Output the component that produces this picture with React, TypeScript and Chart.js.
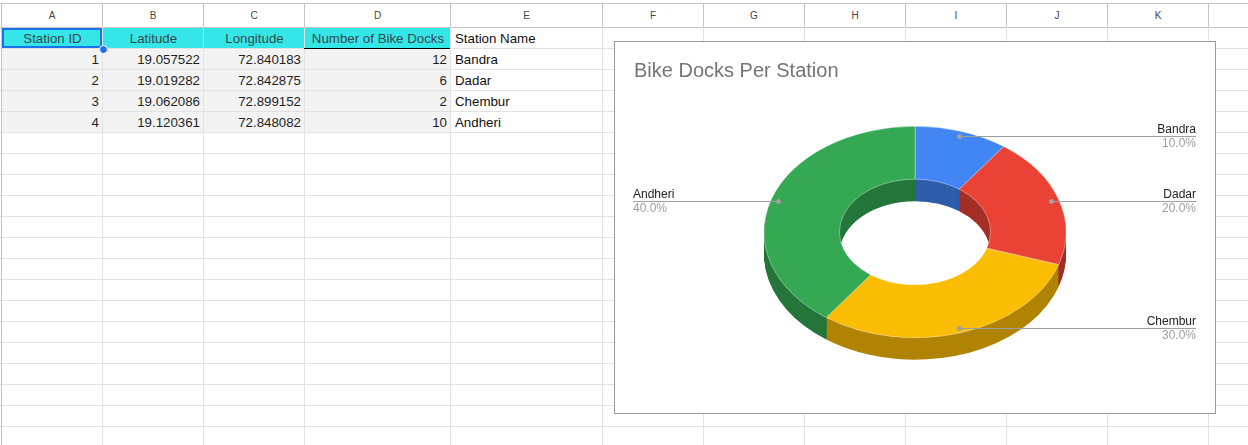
import React, { useEffect, useRef } from 'react';
import { Chart, registerables } from 'chart.js';
Chart.register(...registerables);

// ---- data ----
const headers = ['Station ID', 'Latitude', 'Longitude', 'Number of Bike Docks', 'Station Name'];
const stationIds = [1, 2, 3, 4];
const latitudes = [19.057522, 19.019282, 19.062086, 19.120361];
const longitudes = [72.840183, 72.842875, 72.899152, 72.848082];
const bikeDocks = [12, 6, 2, 10];
const stationNames = ['Bandra', 'Dadar', 'Chembur', 'Andheri'];
const columnLetters = ['A', 'B', 'C', 'D', 'E', 'F', 'G', 'H', 'I', 'J', 'K', 'L'];
const chartTitle = 'Bike Docks Per Station';
const sliceColors = ['#4285F4', '#EA4335', '#FBBC04', '#34A853'];
const sideColors = ['#2E5DAB', '#A42F25', '#B08403', '#24763A'];

// ---- layout ----
const FONT = '"Liberation Sans", Arial, sans-serif';
const COL_EDGES = [1, 102, 203, 304, 450, 602, 703, 804, 905, 1006, 1107, 1208, 1309];
const HEADER_TOP = 3;
const HEADER_BOTTOM = 27;
const ROW_H = 21;
const PAGE_W = 1248;
const PAGE_H = 445;
const RATIO_Y = 0.7;
const DEPTH = 22;

const arcPath = (ctx: CanvasRenderingContext2D, a: any, dy: number) => {
  ctx.beginPath();
  ctx.arc(a.x, a.y + dy, a.outerRadius, a.startAngle, a.endAngle);
  ctx.arc(a.x, a.y + dy, a.innerRadius, a.endAngle, a.startAngle, true);
  ctx.closePath();
};

const pseudo3d = {
  id: 'pseudo3d',
  beforeDatasetsDraw(chart: any) {
    const ctx = chart.ctx as CanvasRenderingContext2D;
    const arcs = chart.getDatasetMeta(0).data;
    if (!arcs.length) return;
    const cx = arcs[0].x;
    const cy = arcs[0].y;
    ctx.save();
    ctx.translate(cx, cy);
    ctx.scale(1, RATIO_Y);
    ctx.translate(-cx, -cy);
    for (let d = DEPTH; d >= 1; d -= 1) {
      arcs.forEach((a: any, i: number) => {
        arcPath(ctx, a, d / RATIO_Y);
        ctx.fillStyle = sideColors[i];
        ctx.fill();
      });
    }
    ctx.restore();
    ctx.save();
    ctx.translate(cx, cy);
    ctx.scale(1, RATIO_Y);
    ctx.translate(-cx, -cy);
  },
  afterDatasetsDraw(chart: any) {
    chart.ctx.restore();
  },
};

const leaderLabels = {
  id: 'leaderLabels',
  afterDraw(chart: any) {
    const ctx = chart.ctx as CanvasRenderingContext2D;
    const arcs = chart.getDatasetMeta(0).data;
    const values = chart.data.datasets[0].data as number[];
    const total = values.reduce((s, v) => s + v, 0);
    const area = chart.chartArea;
    ctx.save();
    arcs.forEach((a: any, i: number) => {
      const mid = (a.startAngle + a.endAngle) / 2;
      const r = a.outerRadius * 0.95;
      const px = a.x + r * Math.cos(mid);
      const py = a.y + r * Math.sin(mid) * RATIO_Y;
      const right = px >= a.x;
      const ex = right ? area.right : area.left - 1;
      const ly = Math.round(py) + 0.5;
      ctx.strokeStyle = '#9e9e9e';
      ctx.lineWidth = 1;
      ctx.beginPath();
      ctx.moveTo(px, ly);
      ctx.lineTo(ex, ly);
      ctx.stroke();
      ctx.fillStyle = '#a0a0a0';
      ctx.beginPath();
      ctx.arc(px, ly, 2.5, 0, Math.PI * 2);
      ctx.fill();
      ctx.textAlign = right ? 'right' : 'left';
      ctx.textBaseline = 'alphabetic';
      ctx.font = `12px ${FONT}`;
      ctx.fillStyle = '#222222';
      ctx.fillText(String(chart.data.labels[i]), ex, ly - 4);
      ctx.fillStyle = '#9e9e9e';
      ctx.fillText(((values[i] / total) * 100).toFixed(1) + '%', ex, ly + 10.5);
    });
    ctx.restore();
  },
};

function Grid() {
  const els: any[] = [];
  els.push(<div key="ht" style={{ position: 'absolute', left: 0, top: HEADER_TOP, width: PAGE_W, height: 1, background: '#c4c4c4' }} />);
  els.push(<div key="hb" style={{ position: 'absolute', left: 0, top: HEADER_BOTTOM, width: PAGE_W, height: 1, background: '#c4c4c4' }} />);
  for (let y = HEADER_BOTTOM + ROW_H; y < PAGE_H; y += ROW_H) {
    els.push(<div key={'h' + y} style={{ position: 'absolute', left: 0, top: y, width: PAGE_W, height: 1, background: '#e2e2e2' }} />);
  }
  COL_EDGES.forEach((x, i) => {
    els.push(<div key={'vh' + i} style={{ position: 'absolute', left: x, top: HEADER_TOP, width: 1, height: HEADER_BOTTOM - HEADER_TOP, background: '#c4c4c4' }} />);
    els.push(<div key={'vc' + i} style={{ position: 'absolute', left: x, top: HEADER_BOTTOM, width: 1, height: PAGE_H - HEADER_BOTTOM, background: i === 0 ? '#c4c4c4' : '#e2e2e2' }} />);
  });
  columnLetters.forEach((l, i) => {
    const x0 = COL_EDGES[i];
    const x1 = COL_EDGES[i + 1];
    els.push(
      <div key={'cl' + i} style={{ position: 'absolute', left: x0 + 1, top: HEADER_TOP + 1, width: x1 - x0 - 1, height: HEADER_BOTTOM - HEADER_TOP - 1, display: 'flex', alignItems: 'center', justifyContent: 'center', font: `10px ${FONT}`, color: '#444746' }}>{l}</div>
    );
  });
  const cell = (key: string, col: number, row: number, text: string, align: 'left' | 'right' | 'center', bg: string | null, color = '#1f1f1f') => {
    const x0 = COL_EDGES[col];
    const x1 = COL_EDGES[col + 1];
    const y0 = HEADER_BOTTOM + ROW_H * row;
    return (
      <div key={key} style={{ position: 'absolute', left: x0 + 1, top: y0 + 1, width: x1 - x0 - 1, height: ROW_H - 1, background: bg || 'transparent', display: 'flex', alignItems: 'center', justifyContent: align === 'left' ? 'flex-start' : align === 'right' ? 'flex-end' : 'center', boxSizing: 'border-box', padding: '0 3px 0 4px', font: `13.3px ${FONT}`, color, whiteSpace: 'nowrap', overflow: 'visible' }}>{text}</div>
    );
  };
  headers.forEach((h, c) => {
    els.push(cell('hd' + c, c, 0, h, c < 4 ? 'center' : 'left', c < 4 ? '#35e6e9' : null, c < 4 ? '#37474a' : '#111'));
  });
  stationIds.forEach((id, r) => {
    els.push(cell('a' + r, 0, r + 1, String(id), 'right', '#f3f3f4'));
    els.push(cell('b' + r, 1, r + 1, latitudes[r].toFixed(6), 'right', '#f3f3f4'));
    els.push(cell('c' + r, 2, r + 1, longitudes[r].toFixed(6), 'right', '#f3f3f4'));
    els.push(cell('d' + r, 3, r + 1, String(bikeDocks[r]), 'right', '#f3f3f4'));
    els.push(cell('e' + r, 4, r + 1, stationNames[r], 'left', null, '#111'));
  });
  els.push(<div key="d1b" style={{ position: 'absolute', left: COL_EDGES[3], top: HEADER_BOTTOM + ROW_H, width: COL_EDGES[4] - COL_EDGES[3], height: 1, background: '#000' }} />);
  els.push(<div key="sel" style={{ position: 'absolute', left: 2, top: 28, width: 100, height: 20, border: '2px solid #1a73e8', boxSizing: 'border-box' }} />);
  els.push(<div key="selDot" style={{ position: 'absolute', left: 98.5, top: 44.5, width: 9, height: 9, borderRadius: '50%', background: '#1a73e8', border: '1px solid #fff', boxSizing: 'border-box' }} />);
  return <>{els}</>;
}

export default function App() {
  const canvasRef = useRef<HTMLCanvasElement>(null);
  useEffect(() => {
    const chart = new Chart(canvasRef.current as HTMLCanvasElement, {
      type: 'doughnut',
      data: {
        labels: stationNames,
        datasets: [
          {
            data: stationIds,
            backgroundColor: sliceColors,
            borderColor: 'rgba(255,255,255,0.45)',
            borderWidth: 1,
          },
        ],
      },
      options: {
        responsive: false,
        animation: false,
        events: [],
        radius: 151,
        cutout: '50%',
        layout: { padding: { left: 19, right: 19, top: 0, bottom: 32 } },
        plugins: {
          legend: { display: false },
          tooltip: { enabled: false },
          title: {
            display: true,
            text: chartTitle,
            align: 'start',
            color: '#757575',
            font: { family: FONT, size: 20, weight: 'normal', lineHeight: 1.2 },
            padding: { top: 17, bottom: 0 },
          },
        },
      } as any,
      plugins: [pseudo3d, leaderLabels],
    });
    return () => chart.destroy();
  }, []);

  return (
    <div style={{ position: 'fixed', left: 0, top: 0, width: PAGE_W, height: PAGE_H, overflow: 'hidden', background: '#fff', fontFamily: FONT }}>
      <Grid />
      <div style={{ position: 'absolute', left: 614, top: 41, width: 602, height: 373, border: '1px solid #9a9a9a', boxSizing: 'border-box', background: '#fff' }}>
        <canvas ref={canvasRef} width={600} height={371} style={{ display: 'block', width: 600, height: 371 }} />
      </div>
    </div>
  );
}
